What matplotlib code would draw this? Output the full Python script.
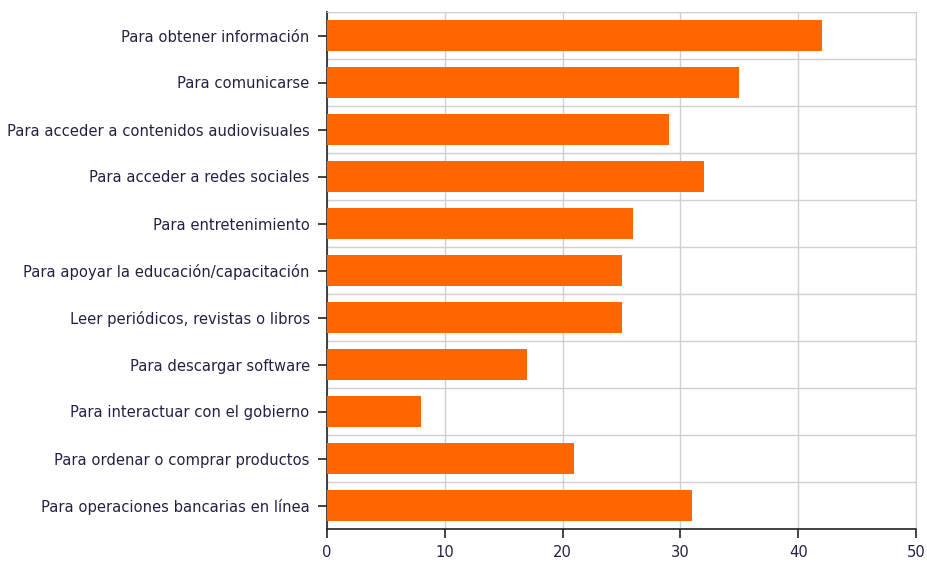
import matplotlib.pyplot as plt
import numpy as np
from matplotlib.ticker import MultipleLocator

plt.rcParams['font.family'] = ['DejaVu Sans']

categorias = ['Para obtener información',
              'Para comunicarse',
              'Para acceder a contenidos audiovisuales',
              'Para acceder a redes sociales',
              'Para entretenimiento',
              'Para apoyar la educación/capacitación',
              'Leer periódicos, revistas o libros',
              'Para descargar software',
              'Para interactuar con el gobierno',
              'Para ordenar o comprar productos',
              'Para operaciones bancarias en línea']
valores = [42, 35, 29, 32, 26, 25, 25, 17, 8, 21, 31]

fig = plt.figure(figsize=(9.27, 5.66), dpi=100)
ax = fig.add_axes([327/927, 1-529/566, (916-327)/927, (529-12)/566])

y = np.arange(len(categorias))[::-1]
ax.barh(y, valores, height=0.66, color='#FF6600', zorder=3)

ax.set_xlim(0, 50)
ax.set_ylim(-0.5, len(categorias)-0.5)
ax.set_yticks(y)
ax.set_yticklabels(categorias)
ax.xaxis.set_major_locator(MultipleLocator(10))
ax.yaxis.set_minor_locator(MultipleLocator(1, offset=0.5))
ax.tick_params(axis='y', which='minor', length=0)
ax.tick_params(axis='both', which='major', length=6.5, width=1.2, labelsize=10.6,
               colors='#222222', labelcolor='#222244')
ax.tick_params(axis='y', which='major', pad=6)
ax.tick_params(axis='x', which='major', pad=5)

ax.grid(True, axis='x', which='major', color='#d0d0d0', linewidth=1, zorder=0)
ax.grid(True, axis='y', which='minor', color='#d0d0d0', linewidth=1, zorder=0)
for s in ['top', 'right']:
    ax.spines[s].set_color('#d0d0d0')
for s in ['left', 'bottom']:
    ax.spines[s].set_color('#222222')
    ax.spines[s].set_linewidth(1.2)

plt.savefig('out.png', dpi=100)
